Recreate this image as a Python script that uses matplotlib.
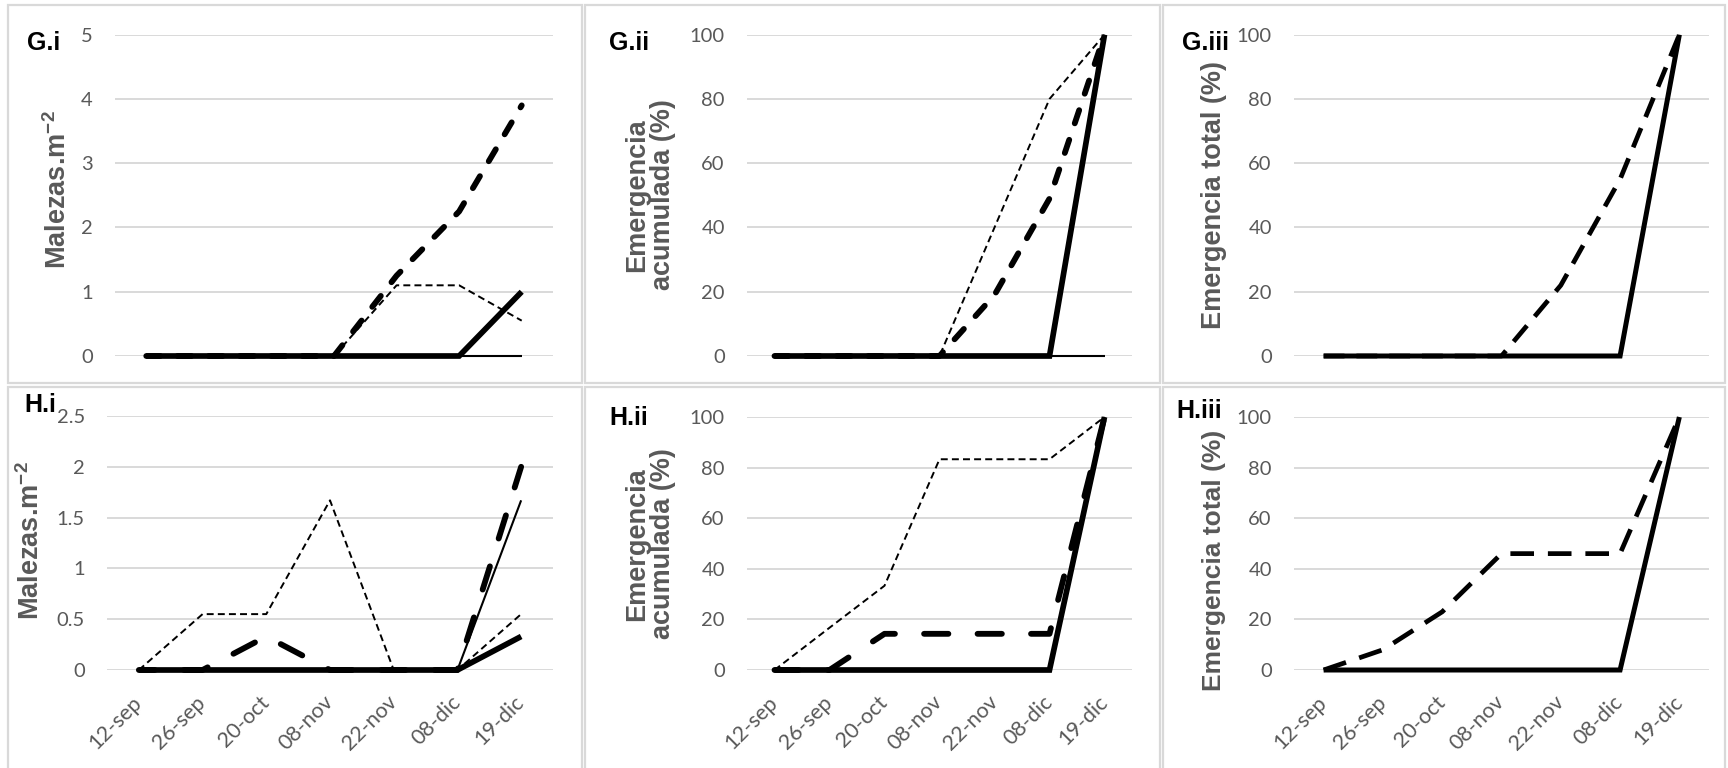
import matplotlib
matplotlib.use('Agg')
import matplotlib.pyplot as plt
from matplotlib.patches import Rectangle
from matplotlib.ticker import FuncFormatter

# fechas de muestreo
fechas = ['12-sep', '26-sep', '20-oct', '08-nov', '22-nov', '08-dic', '19-dic']

# G.i  malezas por m2
gi_fino_punt = [0, 0, 0, 0, 1.1, 1.1, 0.55]
gi_fino_cont = [0, 0, 0, 0, 0, 0, 0]
gi_grueso_punt = [0, 0, 0, 0, 1.25, 2.25, 3.9]
gi_grueso_cont = [0, 0, 0, 0, 0, 0, 1.0]

# G.ii  emergencia acumulada (%)
gii_fino_punt = [0, 0, 0, 0, 40, 80, 100]
gii_fino_cont = [0, 0, 0, 0, 0, 0, 0]
gii_grueso_punt = [0, 0, 0, 0, 19, 49, 100]
gii_grueso_cont = [0, 0, 0, 0, 0, 0, 100]

# G.iii  emergencia total (%)
giii_punt = [0, 0, 0, 0, 22, 55, 100]
giii_cont = [0, 0, 0, 0, 0, 0, 100]

# H.i  malezas por m2
hi_fino_punt = [0, 0.55, 0.55, 1.67, 0, 0, 0.55]
hi_fino_cont = [0, 0, 0, 0, 0, 0, 1.67]
hi_grueso_punt = [0, 0, 0.33, 0, 0, 0, 2.0]
hi_grueso_cont = [0, 0, 0, 0, 0, 0, 0.33]

# H.ii  emergencia acumulada (%)
hii_fino_punt = [0, 16.7, 33.3, 83.3, 83.3, 83.3, 100]
hii_fino_cont = [0, 0, 0, 0, 0, 0, 100]
hii_grueso_punt = [0, 0, 14.3, 14.3, 14.3, 14.3, 100]
hii_grueso_cont = [0, 0, 0, 0, 0, 0, 100]

# H.iii  emergencia total (%)
hiii_punt = [0, 8, 23, 46, 46, 46, 100]
hiii_cont = [0, 0, 0, 0, 0, 0, 100]

plt.rcParams['lines.scale_dashes'] = False
plt.rcParams['mathtext.fontset'] = 'custom'
plt.rcParams['mathtext.rm'] = 'Liberation Sans:bold'
plt.rcParams['mathtext.bf'] = 'Liberation Sans:bold'

W, H = 1728, 768
GRIS = '#595959'
GRID = '#d9d9d9'
TICKFONT = 'Lato'
LABFONT = 'Liberation Sans'

fig = plt.figure(figsize=(W / 100, H / 100), dpi=100)


def caja(x0, y0, x1, y1):
    return [x0 / W, 1 - y1 / H, (x1 - x0) / W, (y1 - y0) / H]


def marco(x0, y0, x1, y1):
    r = Rectangle((x0 / W, 1 - y1 / H), (x1 - x0) / W, (y1 - y0) / H,
                  transform=fig.transFigure, fill=False, ec=GRID, lw=1.6)
    fig.add_artist(r)


def panel(pos, ymax, paso, abajo):
    ax = fig.add_axes(caja(*pos))
    x = list(range(len(fechas)))
    ax.set_xlim(-0.5, len(fechas) - 0.5)
    ax.set_ylim(0, ymax)
    ax.set_yticks([paso * i for i in range(int(round(ymax / paso)) + 1)])
    ax.yaxis.set_major_formatter(FuncFormatter(lambda v, p: '%g' % v))
    ax.grid(axis='y', color=GRID, lw=1.4)
    ax.set_axisbelow(True)
    for s in ax.spines.values():
        s.set_visible(False)
    ax.tick_params(axis='y', length=0, pad=16, labelcolor=GRIS, labelsize=14.5)
    ax.set_xticks(x)
    if abajo:
        ax.set_xticklabels(fechas, rotation=45, ha='right', va='center',
                           rotation_mode='anchor')
        ax.tick_params(axis='x', length=0, pad=21, labelcolor=GRIS, labelsize=15.5)
    else:
        ax.set_xticklabels([])
        ax.tick_params(axis='x', length=0)
    for t in ax.get_xticklabels() + ax.get_yticklabels():
        t.set_fontfamily(TICKFONT)
    return ax, x


def fino_punt(ax, x, y):
    ax.plot(x, y, color='black', lw=1.4, dashes=(5, 3), clip_on=False)


def fino_cont(ax, x, y):
    ax.plot(x, y, color='black', lw=1.5, solid_capstyle='butt', clip_on=False)


def grueso_punt(ax, x, y, patron):
    ax.plot(x, y, color='black', lw=4.2, linestyle=patron,
            dash_capstyle='round', clip_on=False)


def grueso_cont(ax, x, y, lw=4.1):
    ax.plot(x, y, color='black', lw=lw, solid_capstyle='butt',
            solid_joinstyle='miter', clip_on=False)


# fila G
ax, x = panel((115, 34.7, 553, 356), 5, 1, False)
fino_punt(ax, x, gi_fino_punt)
fino_cont(ax, x, gi_fino_cont)
grueso_punt(ax, x, gi_grueso_punt, (0, (10, 12.5)))
grueso_cont(ax, x, gi_grueso_cont)

ax, x = panel((747, 34.7, 1132, 356), 100, 20, False)
fino_punt(ax, x, gii_fino_punt)
fino_cont(ax, x, gii_fino_cont)
grueso_punt(ax, x, gii_grueso_punt, (0, (10, 12.5)))
grueso_cont(ax, x, gii_grueso_cont)

ax, x = panel((1294, 34.7, 1709, 356), 100, 20, False)
ax.plot(x, giii_punt, color='black', lw=3.4, dashes=(15, 8.6),
        dash_capstyle='butt', clip_on=False)
grueso_cont(ax, x, giii_cont, lw=3.6)

# fila H
ax, x = panel((107, 416, 553, 670), 2.5, 0.5, True)
fino_punt(ax, x, hi_fino_punt)
fino_cont(ax, x, hi_fino_cont)
grueso_punt(ax, x, hi_grueso_punt, (6, (17.5, 21)))
grueso_cont(ax, x, hi_grueso_cont)

ax, x = panel((747, 417, 1132, 670), 100, 20, True)
fino_punt(ax, x, hii_fino_punt)
fino_cont(ax, x, hii_fino_cont)
grueso_punt(ax, x, hii_grueso_punt, (0, (17.5, 21)))
grueso_cont(ax, x, hii_grueso_cont)

ax, x = panel((1294, 417, 1709, 670), 100, 20, True)
ax.plot(x, hiii_punt, color='black', lw=3.4, dashes=(17, 10),
        dash_capstyle='butt', clip_on=False)
grueso_cont(ax, x, hiii_cont, lw=3.6)

# marcos de cada panel
for x0, x1 in [(8, 582), (585, 1160), (1163, 1725)]:
    marco(x0, 5, x1, 383)
    marco(x0, 387, x1, 800)


# titulos de eje
def etiqueta(x, y, txt, size=19.5):
    fig.text(x / W, 1 - y / H, txt, rotation=90, ha='center', va='center',
             fontsize=size, fontweight='bold', color=GRIS, family=LABFONT,
             multialignment='center', linespacing=1.0)


etiqueta(58, 190, 'Malezas.m$^{\\mathrm{-2}}$')
etiqueta(650, 195, 'Emergencia\nacumulada (%)')
etiqueta(1214, 195, 'Emergencia total (%)')
etiqueta(31, 541, 'Malezas.m$^{\\mathrm{-2}}$')
etiqueta(650, 544, 'Emergencia\nacumulada (%)')
etiqueta(1214, 560, 'Emergencia total (%)', size=19)

# letras de panel
for txt, x, y in [('G.i', 27, 50), ('G.ii', 609, 50), ('G.iii', 1182, 50),
                  ('H.i', 24, 412), ('H.ii', 609, 425), ('H.iii', 1176, 418)]:
    fig.text(x / W, 1 - y / H, txt, ha='left', va='baseline', fontsize=18,
             fontweight='bold', color='black', family=LABFONT)

fig.savefig('out.png', dpi=100)
